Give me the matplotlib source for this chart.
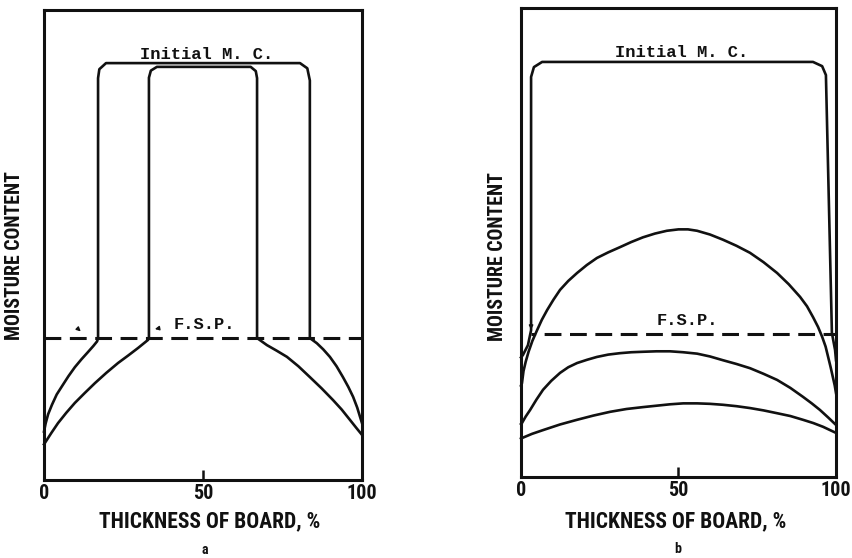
import matplotlib
matplotlib.use("Agg")
import matplotlib.pyplot as plt

# ---- data: moisture profiles across the board thickness (arbitrary MC units) ----
fsp_level = 30.2
fsp_level_b = 30.5

# panel a: outer (early) profile
a_outer_x = [0.0, 0.5, 1.3, 2.5, 4.0, 5.7, 7.7, 9.7, 11.8, 13.8, 15.5, 16.7, 17.0,
             17.0, 17.4, 19.5, 21.5, 80.5, 82.8, 83.6,
             83.6, 85.8, 87.8, 89.9, 92.0, 94.0, 95.7, 97.2, 98.5, 99.4, 100.0]
a_outer_y = [10.3, 12.0, 14.0, 16.0, 18.2, 20.0, 22.1, 24.0, 25.7, 27.2, 28.5, 29.5, 30.2,
             85.5, 87.4, 88.7, 88.7, 88.7, 87.6, 85.0,
             30.2, 29.1, 27.8, 26.2, 24.2, 21.9, 19.8, 17.7, 15.4, 13.4, 12.1]

# panel a: inner (later) profile
a_inner_x = [0.0, 0.3, 2.3, 4.4, 7.0, 9.7, 12.8, 16.0, 19.6, 23.3, 26.5, 29.6, 32.7, 33.0,
             33.0, 33.6, 35.5, 65.0, 66.6, 67.0,
             67.0, 70.1, 73.2, 76.4, 80.0, 83.6, 87.3, 90.9, 93.6, 96.2, 98.2, 100.0]
a_inner_y = [7.6, 7.9, 10.0, 12.1, 14.3, 16.4, 18.5, 20.6, 22.8, 24.9, 26.5, 28.1, 29.8, 30.2,
             85.6, 87.1, 87.9, 87.9, 87.0, 85.5,
             30.2, 28.7, 27.5, 26.2, 24.2, 21.9, 19.5, 17.0, 15.0, 12.8, 11.1, 9.6]

# panel b: initial moisture content profile
b_init_x = [0.0, 0.6, 2.2, 3.2, 3.2, 4.1, 6.7, 92.7, 95.6, 96.8, 98.7, 99.7, 100.0]
b_init_y = [25.5, 26.0, 28.1, 31.3, 85.3, 87.4, 88.5, 88.5, 87.6, 85.7, 30.7, 27.1, 24.9]

# panel b: drying profiles (high, middle, low)
b_high_x = [0.0, 0.3, 0.8, 1.5, 2.4, 3.6, 5.1, 6.6, 8.3, 10.3, 12.4, 15.0, 17.8, 20.9,
            24.1, 27.7, 31.4, 35.0, 38.7, 42.5, 46.3, 50.0, 53.0, 55.9, 60.0, 64.1,
            68.4, 72.7, 77.0, 81.3, 85.0, 88.6, 90.8, 92.7, 94.3, 95.6, 96.7, 97.5,
            98.3, 99.0, 99.6, 100.0]
b_high_y = [19.5, 20.0, 22.6, 24.6, 26.7, 29.0, 31.3, 33.5, 35.6, 37.8, 39.9, 41.8, 43.5, 45.2,
            46.7, 47.9, 49.0, 50.1, 51.1, 51.9, 52.5, 52.8, 52.8, 52.5, 51.7, 50.6,
            49.3, 47.8, 45.8, 43.5, 41.1, 38.4, 36.4, 34.1, 32.0, 29.9, 27.8, 25.6,
            23.4, 21.3, 19.5, 17.9]

b_mid_x = [0.0, 0.3, 1.5, 2.9, 4.9, 7.0, 9.6, 12.4, 15.0, 17.8, 21.0, 24.1, 27.7, 31.4,
           35.0, 38.7, 43.0, 47.3, 51.5, 55.9, 60.0, 64.1, 68.4, 72.7, 77.0, 81.3,
           85.5, 89.5, 92.3, 94.9, 97.5, 100.0]
b_mid_y = [11.3, 11.5, 12.9, 14.3, 16.5, 18.6, 20.5, 22.2, 23.4, 24.3, 25.0, 25.6, 26.1, 26.4,
           26.6, 26.7, 26.8, 26.8, 26.6, 26.3, 25.7, 24.9, 24.1, 23.2, 22.0, 20.7,
           19.0, 17.1, 15.7, 14.3, 12.7, 11.1]

b_low_x = [0.0, 0.3, 3.5, 7.0, 12.4, 17.8, 23.0, 28.3, 33.5, 38.7, 43.0, 47.3, 51.5, 55.9,
           60.0, 64.1, 68.4, 72.7, 77.0, 81.3, 85.5, 89.5, 92.8, 95.9, 100.0]
b_low_y = [8.2, 8.3, 9.2, 10.0, 11.2, 12.2, 13.1, 13.9, 14.5, 14.9, 15.2, 15.5, 15.7, 15.7,
           15.6, 15.4, 15.1, 14.7, 14.2, 13.6, 13.0, 12.2, 11.5, 10.7, 9.4]

x_ticks = [0, 50, 100]
x_tick_labels = ["0", "50", "100"]

# ---- styling ----
INK = "#111111"
LW = 1.9
LABEL_FONT = ["Roboto Condensed", "Noto Sans Condensed", "Open Sans Condensed",
              "DejaVu Sans Condensed", "Liberation Sans Narrow", "DejaVu Sans"]
TYPE_FONT = ["Liberation Mono", "DejaVu Sans Mono"]
LABEL_KW = dict(family=LABEL_FONT, fontweight="bold", fontstretch="condensed", color=INK)

fig = plt.figure(figsize=(8.53, 5.58), dpi=100)
fig.patch.set_facecolor("white")

ax_a = fig.add_axes([44 / 853, 78 / 558, 318 / 853, 470 / 558])
ax_b = fig.add_axes([521 / 853, 81 / 558, 315 / 853, 469 / 558])


def style_axes(ax, ylab_xy, xlab_xy):
    ax.set_xlim(0, 100)
    ax.set_ylim(0, 100)
    for sp in ax.spines.values():
        sp.set_linewidth(2.2)
        sp.set_color(INK)
    ax.set_xticks(x_ticks)
    ax.set_xticklabels(x_tick_labels, fontsize=14.5, **LABEL_KW)
    ax.tick_params(axis="x", direction="in", length=7, width=1.8, color=INK, pad=3)
    ax.set_yticks([])
    ax.set_ylabel("MOISTURE CONTENT", fontsize=14.2, **LABEL_KW)
    ax.yaxis.set_label_coords(*ylab_xy)
    ax.set_xlabel("THICKNESS OF BOARD, %", fontsize=15.5, **LABEL_KW)
    ax.xaxis.set_label_coords(*xlab_xy)


# panel a
ax_a.plot(a_outer_x, a_outer_y, color=INK, lw=LW, solid_joinstyle="round", clip_on=False)
ax_a.plot(a_inner_x, a_inner_y, color=INK, lw=LW, solid_joinstyle="round", clip_on=False)
ax_a.plot([0, 100], [fsp_level, fsp_level], color=INK, lw=2.2,
          linestyle=(0, (5.5, 2.8)))
ax_a.text(51.2, 90.6, "Initial M. C.", family=TYPE_FONT, fontweight="bold",
          fontsize=12.3, ha="center", va="center", color=INK)
ax_a.text(50.5, 31.5, "F.S.P.", family=TYPE_FONT, fontweight="bold",
          fontsize=12.3, ha="center", va="bottom", color=INK)
ax_a.annotate("", xy=(12.2, 31.2), xytext=(10.0, 32.6),
              arrowprops=dict(arrowstyle="-|>", color=INK, lw=1.0,
                              mutation_scale=6))
ax_a.annotate("", xy=(34.0, 32.0), xytext=(37.0, 32.4),
              arrowprops=dict(arrowstyle="-|>", color=INK, lw=1.0,
                              mutation_scale=6))
style_axes(ax_a, (-0.062, 0.477), (0.522, -0.064))

# panel b
for xs, ys in [(b_init_x, b_init_y), (b_high_x, b_high_y),
               (b_mid_x, b_mid_y), (b_low_x, b_low_y)]:
    ax_b.plot(xs, ys, color=INK, lw=LW, solid_joinstyle="round", clip_on=False)
ax_b.plot([3.2, 100], [fsp_level_b, fsp_level_b], color=INK, lw=2.2,
          linestyle=(4, (5.5, 2.8)))
ax_b.text(51.0, 90.6, "Initial M. C.", family=TYPE_FONT, fontweight="bold",
          fontsize=12.3, ha="center", va="center", color=INK)
ax_b.text(52.8, 31.8, "F.S.P.", family=TYPE_FONT, fontweight="bold",
          fontsize=12.3, ha="center", va="bottom", color=INK)
ax_b.annotate("", xy=(3.2, 30.8), xytext=(3.2, 33.5),
              arrowprops=dict(arrowstyle="-|>", color=INK, lw=1.0,
                              mutation_scale=6))
style_axes(ax_b, (-0.043, 0.471), (0.492, -0.070))

# panel letters under each plot
fig.text(205 / 853, 1 - 550 / 558, "a", fontsize=10, ha="center", va="center", **LABEL_KW)
fig.text(678 / 853, 1 - 549 / 558, "b", fontsize=10, ha="center", va="center", **LABEL_KW)

fig.savefig("out.png", dpi=100, facecolor="white")
